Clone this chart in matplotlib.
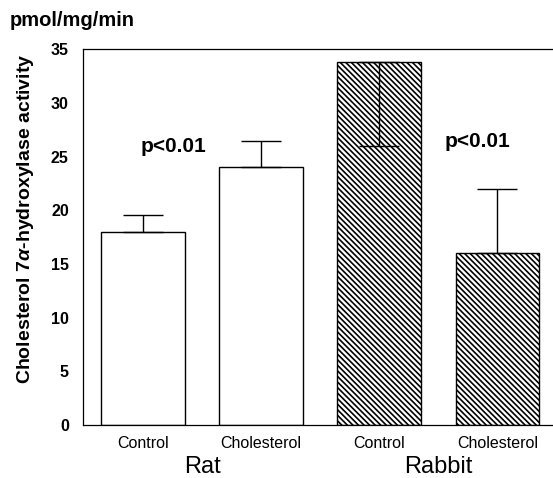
import matplotlib
matplotlib.use("Agg")
import matplotlib.pyplot as plt
import numpy as np

plt.rcParams['font.family'] = ['Liberation Sans', 'DejaVu Sans']
plt.rcParams['mathtext.fontset'] = 'custom'
plt.rcParams['mathtext.it'] = 'Liberation Sans:italic:bold'
plt.rcParams['mathtext.rm'] = 'Liberation Sans:bold'
plt.rcParams['hatch.linewidth'] = 1.2

categories = ["Control", "Cholesterol", "Control", "Cholesterol"]
groups = ["Rat", "Rabbit"]
values = [18.0, 24.0, 33.8, 16.0]
err_low = [0.0, 0.0, 7.8, 0.0]
err_high = [1.6, 2.45, 0.0, 6.0]
hatches = [None, None, "\\\\\\\\\\\\", "\\\\\\\\\\\\"]
yticks = [0, 5, 10, 15, 20, 25, 30, 35]

fig = plt.figure(figsize=(5.53, 4.78), dpi=100)
ax = fig.add_axes([0.1496, 0.1109, 1.0 - 0.1496, 0.8969 - 0.1109])

x = np.arange(len(values))
for i in range(len(values)):
    ax.bar(x[i], values[i], width=0.71, color="white", edgecolor="black",
           linewidth=1.0, hatch=hatches[i], zorder=2)
    ax.errorbar(x[i], values[i], yerr=[[err_low[i]], [err_high[i]]],
                fmt="none", ecolor="black", elinewidth=1.0, capsize=14.5,
                capthick=1.0, zorder=3)

ax.set_xlim(-0.51, 3.47)
ax.set_ylim(0, 35)
ax.set_yticks(yticks)
ax.set_yticklabels([str(t) for t in yticks], fontsize=11.5, fontweight="bold")
ax.tick_params(axis="y", length=0, pad=10)
ax.set_xticks(x)
ax.set_xticklabels(categories, fontsize=11.5)
ax.tick_params(axis="x", length=0, pad=8)
ax.spines["right"].set_visible(False)
for s in ["left", "top", "bottom"]:
    ax.spines[s].set_linewidth(0.9)

ax.set_ylabel(r"Cholesterol $7\alpha$-hydroxylase activity", fontsize=14,
              fontweight="bold")
ax.yaxis.set_label_coords(-0.099, 0.55)

ax.text(0.26, 25.9, "p<0.01", fontsize=15, fontweight="bold", ha="center", va="center")
ax.text(2.83, 26.4, "p<0.01", fontsize=15, fontweight="bold", ha="center", va="center")

ax.text(0.5, -0.112, groups[0], transform=ax.get_xaxis_transform(), fontsize=17,
        ha="center", va="center")
ax.text(2.5, -0.112, groups[1], transform=ax.get_xaxis_transform(), fontsize=17,
        ha="center", va="center")

fig.text(10 / 553, 1 - 20 / 478, "pmol/mg/min", fontsize=14.5, fontweight="bold",
         ha="left", va="center")

fig.savefig("out.png", dpi=100)
